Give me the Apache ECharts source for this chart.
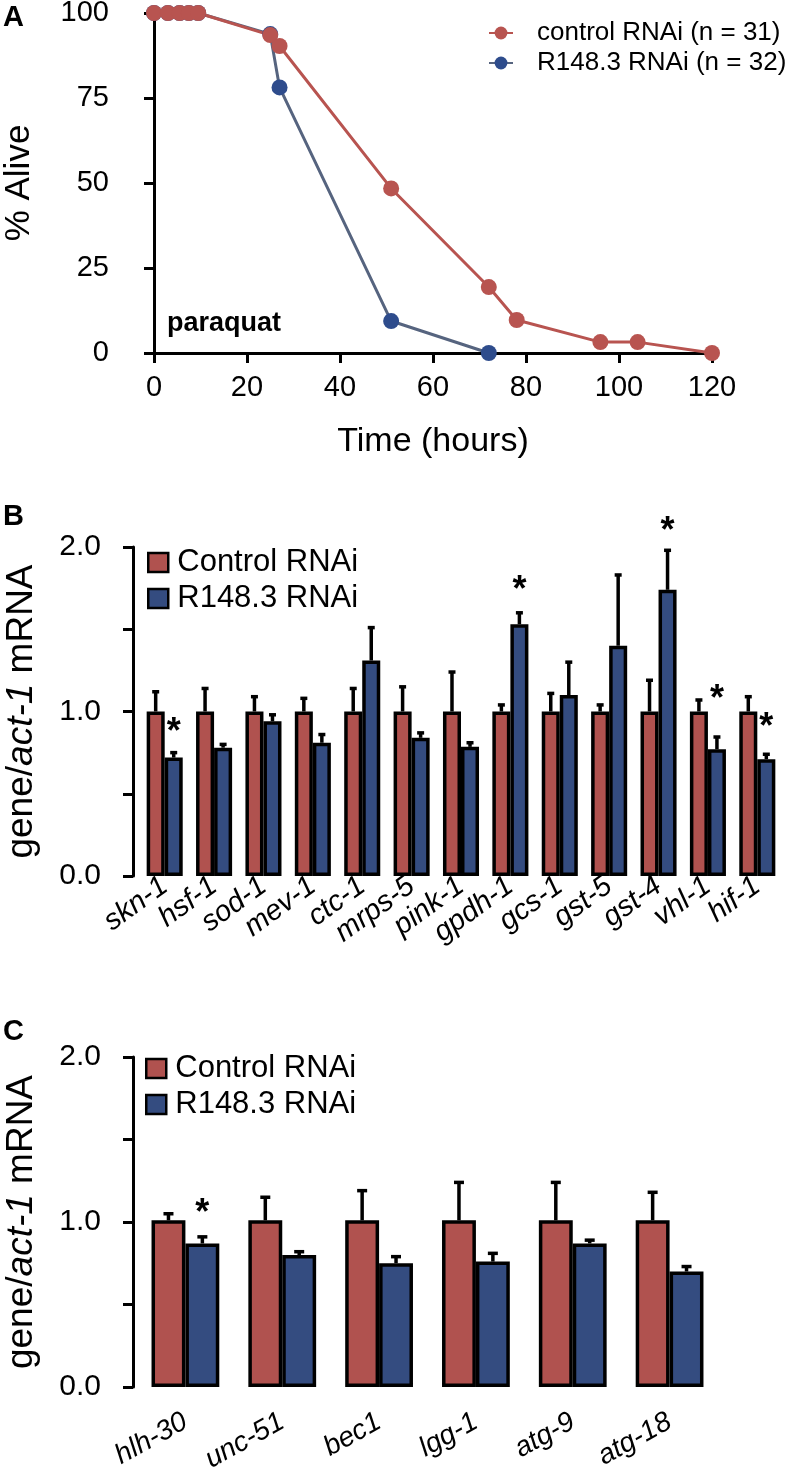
<!DOCTYPE html>
<html>
<head>
<meta charset="utf-8">
<script src="https://cdn.jsdelivr.net/npm/echarts/dist/echarts.min.js"></script>
<style>
html, body { margin: 0; padding: 0; background: #fff; }
#main { width: 797px; height: 1475px; }
</style>
</head>
<body>
<div id="main"></div>
<script>
// panel A: survival on paraquat
var hoursCtrl = [0, 3, 5.5, 7.5, 9.5, 25, 27, 51, 72, 78, 96, 104, 120];
var aliveCtrl = [100, 100, 100, 100, 100, 93.5, 90.3, 48.4, 19.4, 9.7, 3.2, 3.2, 0];
var hoursR148 = [0, 3, 5.5, 7.5, 9.5, 25, 27, 51, 72];
var aliveR148 = [100, 100, 100, 100, 100, 93.8, 78.1, 9.4, 0];

// panel B: stress genes
var genesB = ['skn-1', 'hsf-1', 'sod-1', 'mev-1', 'ctc-1', 'mrps-5', 'pink-1', 'gpdh-1', 'gcs-1', 'gst-5', 'gst-4', 'vhl-1', 'hif-1'];
var ctrlB = [1, 1, 1, 1, 1, 1, 1, 1, 1, 1, 1, 1, 1];
var ctrlErrB = [0.12, 0.14, 0.09, 0.08, 0.14, 0.15, 0.24, 0.04, 0.11, 0.04, 0.19, 0.07, 0.09];
var r148B = [0.72, 0.78, 0.94, 0.81, 1.31, 0.84, 0.785, 1.53, 1.10, 1.40, 1.74, 0.77, 0.71];
var r148ErrB = [0.03, 0.02, 0.04, 0.05, 0.20, 0.03, 0.025, 0.07, 0.20, 0.43, 0.24, 0.075, 0.03];
var starsB = [0.87, null, null, null, null, null, null, 1.73, null, null, 2.09, 1.07, 0.90];

// panel C: autophagy genes
var genesC = ['hlh-30', 'unc-51', 'bec1', 'lgg-1', 'atg-9', 'atg-18'];
var ctrlC = [1.01, 1.01, 1.01, 1.01, 1.01, 1.01];
var ctrlErrC = [0.04, 0.14, 0.18, 0.23, 0.23, 0.17];
var r148C = [0.87, 0.80, 0.75, 0.76, 0.87, 0.70];
var r148ErrC = [0.04, 0.02, 0.04, 0.05, 0.02, 0.03];
var starsC = [1.05, null, null, null, null, null];

var FONT = '"Liberation Sans", Arial, Helvetica, sans-serif';
var RED = '#B0524F';
var BLUE = '#344C80';
var RED_LINE = '#B85450';
var BLUE_LINE = '#56647F';
var BLUE_DOT = '#2E4C8C';

function zip(xs, ys) {
    return xs.map(function (x, i) { return [x, ys[i]]; });
}

function errData(vals, errs) {
    return vals.map(function (v, i) { return [i, v, errs[i]]; });
}

function starData(stars) {
    var out = [];
    stars.forEach(function (s, i) { if (s != null) out.push([i, s]); });
    return out;
}

// one sided error bar above the left (-1) or right (+1) bar of a pair
function errorBar(side, gap, cap) {
    return function (params, api) {
        var i = api.value(0), v = api.value(1), e = api.value(2);
        var base = api.coord([i, v]);
        var top = api.coord([i, v + e]);
        var band = api.size([1, 0])[0];
        var bw = band * (1 - gap) / 2;
        var x = base[0] + side * bw / 2;
        var st = { stroke: '#000', lineWidth: 3.5 };
        return {
            type: 'group',
            children: [
                { type: 'line', shape: { x1: x, y1: base[1], x2: x, y2: top[1] }, style: st },
                { type: 'line', shape: { x1: x - cap, y1: top[1], x2: x + cap, y2: top[1] }, style: st }
            ]
        };
    };
}

function starMark(gap) {
    return function (params, api) {
        var p = api.coord([api.value(0), api.value(1)]);
        var band = api.size([1, 0])[0];
        var bw = band * (1 - gap) / 2;
        return {
            type: 'text',
            style: {
                text: '*', x: p[0] + bw / 2, y: p[1],
                align: 'center', verticalAlign: 'middle',
                fontSize: 36, fontWeight: 'bold', fontFamily: FONT, fill: '#000'
            }
        };
    };
}

var GAP_B = 0.27, GAP_C = 0.30;

var yName = '{a|gene/}{b|act-1}{a| mRNA}';
var yNameStyle = {
    rich: {
        a: { fontSize: 37, fontFamily: FONT, color: '#000' },
        b: { fontSize: 37, fontFamily: FONT, fontStyle: 'italic', color: '#000' }
    }
};

function halfLabels(v) {
    return v % 1 === 0 ? v.toFixed(1) : '';
}

function blackLine() {
    return { show: true, lineStyle: { color: '#000', width: 3 } };
}
function blackTick() {
    return { show: true, length: 10, lineStyle: { color: '#000', width: 3 } };
}

var myChart = echarts.init(document.getElementById('main'));

myChart.setOption({
    animation: false,
    backgroundColor: '#fff',
    textStyle: { fontFamily: FONT, color: '#000' },
    graphic: [
        { type: 'text', left: 3, top: 3, style: { text: 'A', fontSize: 29, fontWeight: 'bold', fontFamily: FONT, fill: '#000' } },
        { type: 'text', left: 3, top: 502, style: { text: 'B', fontSize: 29, fontWeight: 'bold', fontFamily: FONT, fill: '#000' } },
        { type: 'text', left: 3, top: 1017, style: { text: 'C', fontSize: 29, fontWeight: 'bold', fontFamily: FONT, fill: '#000' } },
        { type: 'text', left: 167, top: 310, style: { text: 'paraquat', fontSize: 27, fontWeight: 'bold', fontFamily: FONT, fill: '#000' } }
    ],
    legend: [
        {
            data: ['control RNAi (n = 31)', 'R148.3 RNAi (n = 32)'],
            orient: 'vertical', left: 483, top: 15,
            itemWidth: 24, itemHeight: 16, itemGap: 4,
            textStyle: { fontSize: 26, color: '#000', lineHeight: 26, padding: [0, 0, 0, 19] }
        },
        {
            data: ['Control RNAi', 'R148.3 RNAi'],
            icon: 'rect',
            orient: 'vertical', left: 142, top: 542,
            itemWidth: 20, itemHeight: 19, itemGap: 5,
            itemStyle: { borderWidth: 2.5 },
            textStyle: { fontSize: 31, color: '#000', lineHeight: 31, padding: [0, 0, 0, 4] }
        },
        {
            data: ['Control RNAi', 'R148.3 RNAi'],
            icon: 'rect',
            orient: 'vertical', left: 140, top: 1048,
            itemWidth: 20, itemHeight: 19, itemGap: 5,
            itemStyle: { borderWidth: 2.5 },
            textStyle: { fontSize: 31, color: '#000', lineHeight: 31, padding: [0, 0, 0, 4] }
        }
    ],
    grid: [
        { left: 154, right: 85, top: 13, height: 340, containLabel: false, outerBoundsMode: 'none' },
        { left: 140, right: 15, top: 547, height: 329, containLabel: false, outerBoundsMode: 'none' },
        { left: 137, right: 79, top: 1057, height: 330, containLabel: false, outerBoundsMode: 'none' }
    ],
    xAxis: [
        {
            gridIndex: 0, type: 'value', min: 0, max: 120, interval: 20,
            name: 'Time (hours)', nameLocation: 'middle', nameGap: 72,
            nameTextStyle: { fontSize: 34, color: '#000' },
            axisLine: blackLine(), axisTick: blackTick(),
            axisLabel: { fontSize: 29, color: '#000', margin: 20 },
            splitLine: { show: false }
        },
        {
            gridIndex: 1, type: 'category', data: genesB,
            axisLine: { show: false }, axisTick: { show: false },
            axisLabel: { interval: 0, rotate: 36, fontStyle: 'italic', fontSize: 29, color: '#000', margin: 7 }
        },
        {
            gridIndex: 2, type: 'category', data: genesC,
            axisLine: { show: false }, axisTick: { show: false },
            axisLabel: { interval: 0, rotate: 29, fontStyle: 'italic', fontSize: 28, color: '#000', margin: 33 }
        }
    ],
    yAxis: [
        {
            gridIndex: 0, type: 'value', min: 0, max: 100, interval: 25,
            name: '% Alive', nameLocation: 'middle', nameGap: 117,
            nameTextStyle: { fontSize: 35, color: '#000' },
            axisLine: blackLine(), axisTick: blackTick(),
            axisLabel: { fontSize: 29, color: '#000', margin: 45 },
            splitLine: { show: false }
        },
        {
            gridIndex: 1, type: 'value', min: 0, max: 2, interval: 0.5, offset: 7,
            name: yName, nameLocation: 'middle', nameGap: 93, nameTextStyle: yNameStyle,
            axisLine: blackLine(), axisTick: blackTick(),
            axisLabel: { fontSize: 30, color: '#000', margin: 32, formatter: halfLabels },
            splitLine: { show: false }
        },
        {
            gridIndex: 2, type: 'value', min: 0, max: 2, interval: 0.5, offset: 4,
            name: yName, nameLocation: 'middle', nameGap: 93, nameTextStyle: yNameStyle,
            axisLine: blackLine(), axisTick: blackTick(),
            axisLabel: { fontSize: 30, color: '#000', margin: 32, formatter: halfLabels },
            splitLine: { show: false }
        }
    ],
    series: [
        // A
        {
            name: 'R148.3 RNAi (n = 32)', type: 'line', xAxisIndex: 0, yAxisIndex: 0,
            data: zip(hoursR148, aliveR148),
            symbol: 'circle', symbolSize: 16,
            lineStyle: { color: BLUE_LINE, width: 3 },
            itemStyle: { color: BLUE_DOT }
        },
        {
            name: 'control RNAi (n = 31)', type: 'line', xAxisIndex: 0, yAxisIndex: 0,
            data: zip(hoursCtrl, aliveCtrl),
            symbol: 'circle', symbolSize: 16,
            lineStyle: { color: RED_LINE, width: 3 },
            itemStyle: { color: RED_LINE }
        },
        // B
        {
            name: 'Control RNAi', type: 'bar', xAxisIndex: 1, yAxisIndex: 1,
            data: ctrlB, barGap: 0, barCategoryGap: (GAP_B * 100) + '%',
            itemStyle: { color: RED, borderColor: '#000', borderWidth: 3.5 }
        },
        {
            name: 'R148.3 RNAi', type: 'bar', xAxisIndex: 1, yAxisIndex: 1,
            data: r148B, barGap: 0, barCategoryGap: (GAP_B * 100) + '%',
            itemStyle: { color: BLUE, borderColor: '#000', borderWidth: 3.5 }
        },
        {
            type: 'custom', xAxisIndex: 1, yAxisIndex: 1, z: 3,
            renderItem: errorBar(-1, GAP_B, 3.5), data: errData(ctrlB, ctrlErrB)
        },
        {
            type: 'custom', xAxisIndex: 1, yAxisIndex: 1, z: 3,
            renderItem: errorBar(1, GAP_B, 3.5), data: errData(r148B, r148ErrB)
        },
        {
            type: 'custom', xAxisIndex: 1, yAxisIndex: 1, z: 4,
            renderItem: starMark(GAP_B), data: starData(starsB)
        },
        // C
        {
            name: 'Control RNAi', type: 'bar', xAxisIndex: 2, yAxisIndex: 2,
            data: ctrlC, barGap: 0, barCategoryGap: (GAP_C * 100) + '%',
            itemStyle: { color: RED, borderColor: '#000', borderWidth: 3.5 }
        },
        {
            name: 'R148.3 RNAi', type: 'bar', xAxisIndex: 2, yAxisIndex: 2,
            data: r148C, barGap: 0, barCategoryGap: (GAP_C * 100) + '%',
            itemStyle: { color: BLUE, borderColor: '#000', borderWidth: 3.5 }
        },
        {
            type: 'custom', xAxisIndex: 2, yAxisIndex: 2, z: 3,
            renderItem: errorBar(-1, GAP_C, 5), data: errData(ctrlC, ctrlErrC)
        },
        {
            type: 'custom', xAxisIndex: 2, yAxisIndex: 2, z: 3,
            renderItem: errorBar(1, GAP_C, 5), data: errData(r148C, r148ErrC)
        },
        {
            type: 'custom', xAxisIndex: 2, yAxisIndex: 2, z: 4,
            renderItem: starMark(GAP_C), data: starData(starsC)
        }
    ]
});
</script>
</body>
</html>
